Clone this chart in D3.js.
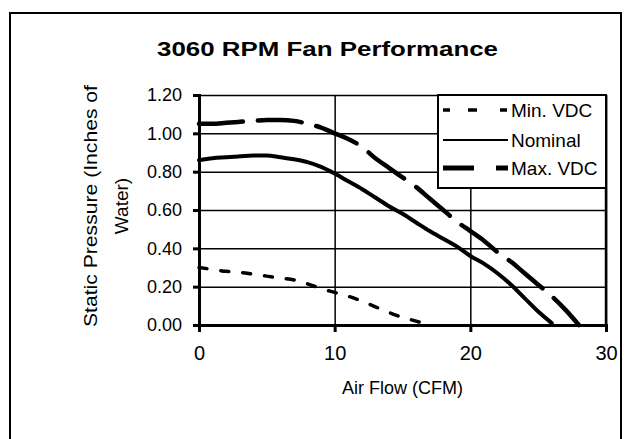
<!DOCTYPE html>
<html>
<head>
<meta charset="utf-8">
<script src="https://cdn.jsdelivr.net/npm/d3@7"></script>
<style>
  html, body { margin: 0; padding: 0; background: #fff; }
  svg { display: block; }
  text { font-family: "Liberation Sans", Arial, sans-serif; fill: #000; }
</style>
</head>
<body>
<svg id="chart" width="629" height="439"></svg>
<script>
// ---- data ----
const title = "3060 RPM Fan Performance";
const xLabel = "Air Flow (CFM)";
const yLabelLines = ["Static Pressure (Inches of", "Water)"];
const seriesNames = ["Min. VDC", "Nominal", "Max. VDC"];
const xTicks = [0, 10, 20, 30];
const yTicks = [0, 0.2, 0.4, 0.6, 0.8, 1.0, 1.2];

const minFlow = [0, 1, 2, 3, 4, 5, 6, 7, 8, 9, 10, 11, 12, 13, 14, 15, 16, 17];
const minPressure = [0.30, 0.29, 0.28, 0.275, 0.265, 0.255, 0.245, 0.235, 0.215, 0.19, 0.17, 0.15, 0.125, 0.095, 0.065, 0.04, 0.02, 0.0];

const nomFlow = [0, 1, 2, 3, 4, 5, 6, 7, 8, 9, 10, 11, 12, 13, 14, 15, 16, 17, 18, 19, 20, 21, 22, 23, 24, 25, 26];
const nomPressure = [0.86, 0.87, 0.875, 0.88, 0.885, 0.885, 0.875, 0.865, 0.85, 0.825, 0.79, 0.75, 0.71, 0.665, 0.62, 0.58, 0.535, 0.49, 0.45, 0.41, 0.36, 0.32, 0.27, 0.21, 0.14, 0.07, 0.01];

const maxFlow = [0, 1, 2, 3, 4, 5, 6, 7, 8, 9, 10, 11, 12, 13, 14, 15, 16, 17, 18, 19, 20, 21, 22, 23, 24, 25, 26, 27, 28];
const maxPressure = [1.05, 1.05, 1.055, 1.06, 1.065, 1.07, 1.07, 1.065, 1.05, 1.03, 1.0, 0.97, 0.93, 0.87, 0.82, 0.77, 0.72, 0.66, 0.60, 0.54, 0.49, 0.44, 0.38, 0.33, 0.27, 0.21, 0.15, 0.08, 0.0];

// ---- layout ----
const svg = d3.select("#chart");
const plot = { left: 199, right: 606, top: 95, bottom: 325 };
const x = d3.scaleLinear().domain([0, 30]).range([plot.left, plot.right]);
const y = d3.scaleLinear().domain([0, 1.2]).range([plot.bottom, plot.top]);

// outer frame
svg.append("path")
  .attr("d", `M10,450 L10,13 L621,13 L621,450`)
  .attr("fill", "none").attr("stroke", "#000").attr("stroke-width", 2);

// title
svg.append("text")
  .attr("x", 157).attr("y", 56)
  .attr("font-size", 21).attr("font-weight", "bold")
  .attr("textLength", 341).attr("lengthAdjust", "spacingAndGlyphs")
  .text(title);

// horizontal grid
const gridY = svg.append("g").attr("transform", `translate(${plot.left},0)`)
  .call(d3.axisLeft(y).tickValues(yTicks).tickSize(-(plot.right - plot.left)).tickFormat(""));
gridY.select(".domain").remove();
gridY.selectAll("line").attr("stroke", "#000").attr("stroke-width", 1.5);

// vertical grid
const gridX = svg.append("g").attr("transform", `translate(0,${plot.bottom})`)
  .call(d3.axisBottom(x).tickValues(xTicks).tickSize(-(plot.bottom - plot.top)).tickFormat(""));
gridX.select(".domain").remove();
gridX.selectAll("line").attr("stroke", "#000").attr("stroke-width", 1.5);

// right border
svg.append("line").attr("x1", plot.right).attr("x2", plot.right)
  .attr("y1", plot.top).attr("y2", plot.bottom).attr("stroke", "#000").attr("stroke-width", 2.5);

// y axis
const yAxis = svg.append("g").attr("transform", `translate(${plot.left},0)`)
  .call(d3.axisLeft(y).tickValues(yTicks).tickSize(6).tickPadding(11).tickFormat(d3.format(".2f")));
yAxis.select(".domain").attr("stroke", "#000").attr("stroke-width", 3);
yAxis.selectAll("line").attr("stroke", "#000").attr("stroke-width", 3);
yAxis.selectAll("text").attr("font-size", 18).attr("font-family", "Liberation Sans, Arial, sans-serif");

// x axis
const xAxis = svg.append("g").attr("transform", `translate(0,${plot.bottom})`)
  .call(d3.axisBottom(x).tickValues(xTicks).tickSize(7).tickPadding(14).tickFormat(d3.format("d")));
xAxis.select(".domain").attr("stroke", "#000").attr("stroke-width", 3);
xAxis.selectAll("line").attr("stroke", "#000").attr("stroke-width", 3);
xAxis.selectAll("text").attr("font-size", 20).attr("font-family", "Liberation Sans, Arial, sans-serif");

// axis titles
svg.append("text")
  .attr("x", (plot.left + plot.right) / 2).attr("y", 394)
  .attr("text-anchor", "middle").attr("font-size", 18)
  .text(xLabel);

const yl = svg.append("text")
  .attr("transform", `translate(0,206) rotate(-90)`)
  .attr("text-anchor", "middle").attr("font-size", 19);
yl.append("tspan").attr("x", 0).attr("y", 97)
  .attr("textLength", 242).attr("lengthAdjust", "spacingAndGlyphs").text(yLabelLines[0]);
yl.append("tspan").attr("x", 0).attr("y", 128).text(yLabelLines[1]);

// series
const line = d3.line().x(d => x(d[0])).y(d => y(d[1])).curve(d3.curveMonotoneX);
const styles = [
  { w: 3.5, dash: "8,14" },
  { w: 4, dash: null },
  { w: 4.5, dash: "44,15" }
];
const seriesData = [
  d3.zip(minFlow, minPressure),
  d3.zip(nomFlow, nomPressure),
  d3.zip(maxFlow, maxPressure)
];
seriesData.forEach((data, i) => {
  const p = svg.append("path").datum(data)
    .attr("d", line)
    .attr("fill", "none").attr("stroke", "#000")
    .attr("stroke-width", styles[i].w)
    .attr("stroke-linecap", "round").attr("stroke-linejoin", "round");
  if (styles[i].dash) p.attr("stroke-dasharray", styles[i].dash);
});

// legend
const legend = { x: 438, y: plot.top, w: plot.right - 438, h: 93 };
svg.append("rect").attr("x", legend.x).attr("y", legend.y)
  .attr("width", legend.w).attr("height", legend.h)
  .attr("fill", "#fff").attr("stroke", "#000").attr("stroke-width", 2);
const legendRows = [110, 140, 168];
const legendDash = ["7,18,9,23,7", null, "31,22,13"];
const legendW = [3.5, 2, 5];
seriesNames.forEach((name, i) => {
  const l = svg.append("line")
    .attr("x1", 443).attr("x2", 508)
    .attr("y1", legendRows[i]).attr("y2", legendRows[i])
    .attr("stroke", "#000").attr("stroke-width", legendW[i]);
  if (legendDash[i]) l.attr("stroke-dasharray", legendDash[i]);
  svg.append("text").attr("x", 511).attr("y", legendRows[i])
    .attr("dy", "0.36em").attr("font-size", 19).text(name);
});
</script>
</body>
</html>
